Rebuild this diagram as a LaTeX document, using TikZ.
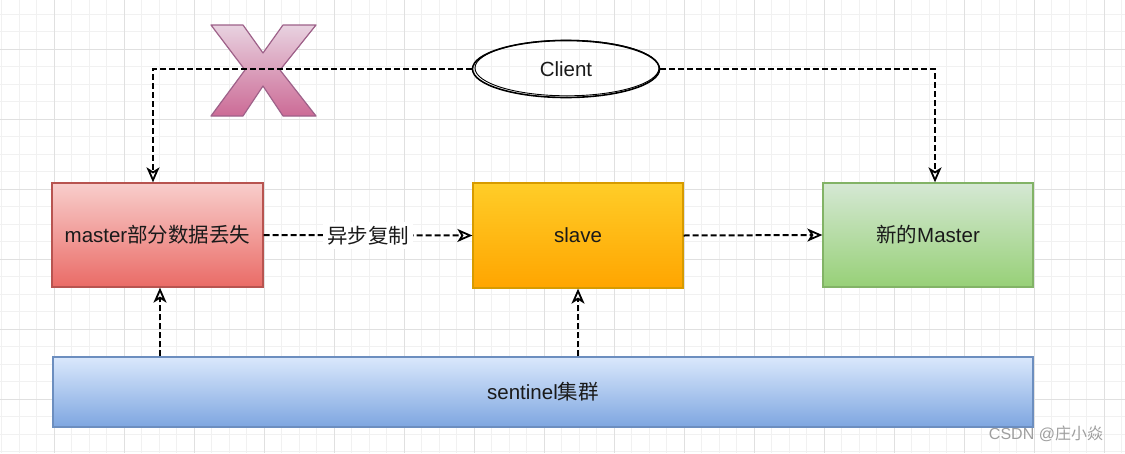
\documentclass[tikz,border=0pt]{standalone}
\usepackage{fontspec}
\setmainfont{Liberation Sans}
\newfontfamily\cjk{Noto Sans CJK SC}
\usetikzlibrary{arrows.meta,shapes.geometric}
\definecolor{minorg}{HTML}{F1F1F1}
\definecolor{majorg}{HTML}{E0E0E0}
\definecolor{redtop}{HTML}{F8CECC}
\definecolor{redbot}{HTML}{EA6B66}
\definecolor{redline}{HTML}{B85450}
\definecolor{ortop}{HTML}{FFCD28}
\definecolor{orbot}{HTML}{FFA500}
\definecolor{orline}{HTML}{D79B00}
\definecolor{grtop}{HTML}{D5E8D4}
\definecolor{grbot}{HTML}{97D077}
\definecolor{grline}{HTML}{82B366}
\definecolor{bltop}{HTML}{DAE8FC}
\definecolor{blbot}{HTML}{7EA6E0}
\definecolor{blline}{HTML}{6C8EBF}
\definecolor{pktop}{HTML}{E8D2E0}
\definecolor{pkbot}{HTML}{CC6B96}
\definecolor{pkline}{HTML}{9E6189}
\definecolor{txt}{HTML}{1A1A1A}
\tikzset{
  lbl/.style={font=\fontsize{20.5}{24}\selectfont, text=txt},
  box/.style={lbl, rectangle, line width=1.3pt, inner sep=0pt},
  tipo/.tip={Stealth[open, length=15pt, width=13pt, inset=4pt, line width=1.8pt]},
  conn/.style={line width=2pt, dash pattern=on 6pt off 3pt, -tipo},
  minorgrid/.style={draw=minorg, line width=0.6pt},
  majorgrid/.style={draw=majorg, line width=0.9pt},
}
\begin{document}
\begin{tikzpicture}[x=1pt,y=-1pt]
\useasboundingbox (0,0) rectangle (1125,453);
\fill[white] (0,0) rectangle (1125,453);
% grid
\foreach \i in {0,...,64} { \draw[minorgrid] ({\i*17.5+1.5},0) -- ({\i*17.5+1.5},453); }
\foreach \j in {0,...,25} { \draw[minorgrid] (0,{\j*17.5+14}) -- (1125,{\j*17.5+14}); }
\foreach \i in {0,...,15} { \draw[majorgrid] ({\i*70+54},0) -- ({\i*70+54},453); }
\foreach \j in {0,...,6} { \draw[majorgrid] (0,{\j*70+49}) -- (1125,{\j*70+49}); }

% boxes
\node[box, draw=redline, top color=redtop, bottom color=redbot, minimum width=211pt, minimum height=104pt] (master) at (157.5,235) {master{\cjk 部分数据丢失}};
\node[box, draw=orline, top color=ortop, bottom color=orbot, minimum width=210pt, minimum height=105pt] (slave) at (578,235.5) {slave};
\node[box, draw=grline, top color=grtop, bottom color=grbot, minimum width=210pt, minimum height=104pt] (newm) at (928,235) {{\cjk 新的}Master};
\node[box, draw=blline, top color=bltop, bottom color=blbot, minimum width=980pt, minimum height=70pt] (sent) at (543,392) {sentinel{\cjk 集群}};

% client ellipse
\node[lbl, ellipse, draw=black, line width=1.6pt, minimum width=187pt, minimum height=57pt, inner sep=0pt] (client) at (566,69) {Client};
\draw[line width=0.9pt] (567,68) ellipse [x radius=92pt, y radius=27.8pt];

% X mark
\draw[line width=1.2pt, draw=pkline, top color=pktop, bottom color=pkbot, line join=round]
  (211,25) -- (243,25) -- (263,53) -- (283,25) -- (316,25) -- (280,70) -- (316,116)
  -- (283,116) -- (263,86) -- (243,116) -- (211,116) -- (245,70) -- cycle;

% connectors
\coordinate (mtop) at ([xshift=-4.5pt]master.north);
\coordinate (ntop) at ([xshift=7pt]newm.north);
\coordinate (mbot) at ([xshift=2.5pt]master.south);
\draw[conn] (client.west) -| (mtop);
\draw[conn] (client.east) -| (ntop);
\draw[conn] (master.east) -- node[lbl, fill=white, inner sep=4pt] {{\cjk 异步复制}} (slave.west);
\draw[conn] (slave.east) -- (newm.west);
\draw[conn] (mbot |- sent.north) -- (mbot);
\draw[conn] (slave.south |- sent.north) -- (slave.south);

% watermark
\node[font=\fontsize{16}{19}\selectfont, text=black!38, inner sep=0pt] (wm) at (1046,434) {CSDN @{\cjk 庄小焱}};
\end{tikzpicture}
\end{document}
